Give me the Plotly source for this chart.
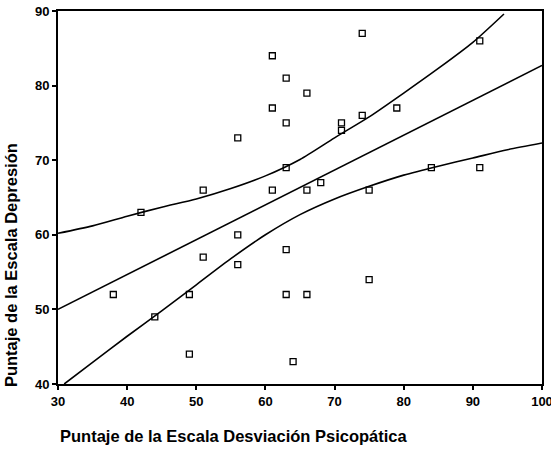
import plotly.graph_objects as go

# Observed scores: Psychopathic Deviate (x) vs Depression (y)
psicopatia = [38, 42, 44, 49, 49, 51, 51, 56, 56, 56, 61, 61, 61, 63, 63, 63, 63,
              63, 64, 66, 66, 66, 68, 71, 71, 74, 74, 75, 75, 79, 84, 91, 91]
depresion = [52, 63, 49, 52, 44, 57, 66, 60, 56, 73, 84, 77, 66, 81, 75, 69, 58,
             52, 43, 79, 66, 52, 67, 75, 74, 87, 76, 66, 54, 77, 69, 86, 69]

# Fitted regression line
ajuste_x = [30, 100]
ajuste_y = [50.0, 82.7]

# Upper and lower confidence limits
sup_x = [30, 35, 40, 45, 50, 55, 60, 65, 70, 75, 80, 85, 90, 94.5]
sup_y = [60.2, 61.2, 62.5, 63.7, 64.8, 66.2, 67.9, 70.1, 73.0, 75.8, 79.0, 82.3, 85.8, 89.6]
inf_x = [30.9, 35, 40, 45, 50, 55, 60, 65, 70, 75, 80, 85, 90, 95, 100]
inf_y = [40.0, 42.9, 46.4, 49.8, 53.3, 56.8, 60.0, 62.7, 64.8, 66.5, 68.0, 69.2, 70.3, 71.4, 72.3]

x_ticks = [30, 40, 50, 60, 70, 80, 90, 100]
y_ticks = [40, 50, 60, 70, 80, 90]

fig = go.Figure()
line_style = dict(color="black", width=1.6)
curve_style = dict(shape="spline", smoothing=0.7, **line_style)
fig.add_trace(go.Scatter(x=sup_x, y=sup_y, mode="lines", line=curve_style))
fig.add_trace(go.Scatter(x=ajuste_x, y=ajuste_y, mode="lines", line=line_style))
fig.add_trace(go.Scatter(x=inf_x, y=inf_y, mode="lines", line=curve_style))
fig.add_trace(go.Scatter(
    x=psicopatia, y=depresion, mode="markers",
    marker=dict(symbol="square-open", size=6, color="black", line=dict(width=1.3)),
))

tick_font = dict(family="Arial, Liberation Sans", size=13, color="black", weight="bold")
axis_common = dict(
    showgrid=False, zeroline=False, showline=True, mirror=True, automargin=False,
    linecolor="black", linewidth=2, ticks="outside", ticklen=4,
    tickcolor="black", tickwidth=1.5, tickfont=tick_font, ticklabeloverflow="allow",
)
fig.update_xaxes(range=[30, 100], tickvals=x_ticks, **axis_common)
fig.update_yaxes(range=[40, 90], tickvals=y_ticks, **axis_common)

title_font = dict(family="Arial, Liberation Sans", size=16.5, color="black", weight="bold")
fig.add_annotation(
    text="Puntaje de la Escala Desviación Psicopática", xref="paper", yref="paper",
    x=0.0, y=-0.139, xanchor="left", yanchor="middle", showarrow=False, font=title_font,
)
fig.add_annotation(
    text="Puntaje de la Escala Depresión", xref="paper", yref="paper",
    x=-0.097, y=0.319, xanchor="center", yanchor="middle", textangle=-90,
    showarrow=False, font=title_font,
)

fig.update_layout(
    width=551, height=452, showlegend=False,
    margin=dict(l=58, r=9, t=11, b=68),
    plot_bgcolor="white", paper_bgcolor="white",
)
fig.write_html("out.html")
